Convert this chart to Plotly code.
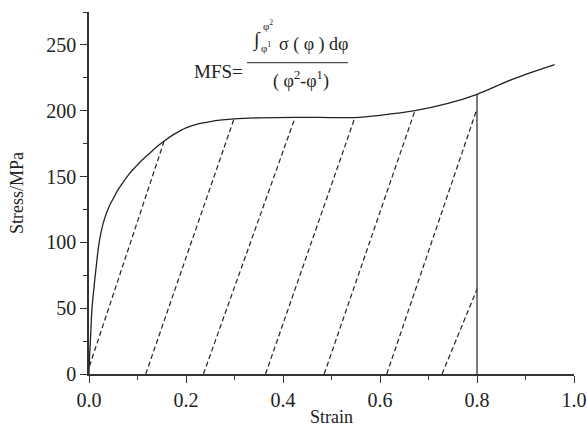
import plotly.graph_objects as go

# Flow curve (strain vs stress)
strain = [0, 0.001, 0.003, 0.006, 0.009, 0.012, 0.015, 0.018, 0.021, 0.025, 0.032,
          0.040, 0.051, 0.060, 0.071, 0.083, 0.095, 0.108, 0.123, 0.138, 0.155,
          0.175, 0.20, 0.225, 0.25, 0.275, 0.299, 0.35, 0.425, 0.50, 0.548,
          0.60, 0.672, 0.74, 0.80, 0.874, 0.96]
stress = [0, 12, 26, 49, 61, 72, 82, 92, 100, 108, 118,
          126, 134, 140, 146, 152, 157, 162, 167, 172, 177,
          182, 187, 190, 191.8, 193, 193.8, 194.6, 195, 194.8, 194.8,
          196.5, 200, 205.5, 212.5, 224, 235]

# Dashed unloading/reloading lines: start strain/stress, end strain/stress
dash_x0 = [0.001, 0.117, 0.236, 0.364, 0.485, 0.614, 0.728]
dash_y0 = [6, 0, 0, 0, 0, 0, 0]
dash_x1 = [0.155, 0.299, 0.425, 0.548, 0.672, 0.800, 0.800]
dash_y1 = [177.0, 193.8, 194.9, 194.6, 200.0, 201.5, 64.4]

# Vertical line at final strain
vline_x = 0.8
vline_top = 212.5

x_ticks = [0.0, 0.2, 0.4, 0.6, 0.8, 1.0]
y_ticks = [0, 50, 100, 150, 200, 250]

FONT = "Liberation Serif"
INK = "#222222"

fig = go.Figure()
fig.add_trace(go.Scatter(x=strain, y=stress, mode="lines",
                         line=dict(color=INK, width=1.3, shape="spline", smoothing=1.0),
                         showlegend=False, hoverinfo="skip"))
for a, b, c, d in zip(dash_x0, dash_y0, dash_x1, dash_y1):
    fig.add_trace(go.Scatter(x=[a, c], y=[b, d], mode="lines",
                             line=dict(color=INK, width=1.2, dash="5px,3px"),
                             showlegend=False, hoverinfo="skip"))
fig.add_trace(go.Scatter(x=[vline_x, vline_x], y=[0, vline_top], mode="lines",
                         line=dict(color=INK, width=1.2),
                         showlegend=False, hoverinfo="skip"))

# Formula annotation (positions in axis units, from page pixels)
def px2x(px):
    return (px - 89) / 485.0

def py2y(py):
    return (374.3 - py) / 1.3164

anns = [
    dict(text="MFS=", px=218, py=72, size=19),
    dict(text="∫", px=256, py=40, size=20),
    dict(text="φ<sup>2</sup>", px=268, py=25, size=11),
    dict(text="φ<sup>1</sup>", px=266, py=47, size=11),
    dict(text="σ ( φ ) dφ", px=313, py=45, size=18),
    dict(text="( φ<sup>2</sup>-φ<sup>1</sup>)", px=301, py=80, size=18),
]
for a in anns:
    fig.add_annotation(x=px2x(a["px"]), y=py2y(a["py"]), xref="x", yref="y",
                       text=a["text"], showarrow=False,
                       font=dict(family=FONT, size=a["size"], color=INK))
fig.add_shape(type="line", xref="x", yref="y",
              x0=px2x(247), x1=px2x(348), y0=py2y(63), y1=py2y(63),
              line=dict(color=INK, width=1))

# x-axis title placed as an annotation below the tick labels (page y ~417)
fig.add_annotation(x=0.5, y=(374.3 - 417) / 362.0, xref="paper", yref="paper",
                   text="Strain", showarrow=False, yanchor="middle",
                   font=dict(family=FONT, size=18, color=INK))

fig.update_layout(
    width=587, height=426,
    margin=dict(l=89, r=13, t=12, b=52),
    paper_bgcolor="white", plot_bgcolor="white",
    font=dict(family=FONT, size=19, color=INK),
    showlegend=False,
)
fig.update_xaxes(range=[0, 1.0], tickvals=x_ticks, tickformat=".1f",
                 automargin=False,
                 showgrid=False, zeroline=False, showline=True,
                 linecolor="#333333", linewidth=1.5,
                 ticks="outside", ticklen=7, tickwidth=1.2, tickcolor="#333333",
                 minor=dict(dtick=0.1, ticks="outside", ticklen=4, tickcolor="#333333", showgrid=False),
                 tickfont=dict(size=20))
fig.update_yaxes(range=[0, 275], tickvals=y_ticks,
                 automargin=False,
                 showgrid=False, zeroline=False, showline=True,
                 linecolor="#333333", linewidth=1.5,
                 ticks="outside", ticklen=7, tickwidth=1.2, tickcolor="#333333",
                 minor=dict(dtick=25, ticks="outside", ticklen=4, tickcolor="#333333", showgrid=False),
                 title=dict(text="Stress/MPa", font=dict(size=18), standoff=18),
                 tickfont=dict(size=20))

fig.write_html("out.html",
               config={"displayModeBar": False},
               post_script="document.body.style.margin='0px';document.body.style.overflow='hidden';")
